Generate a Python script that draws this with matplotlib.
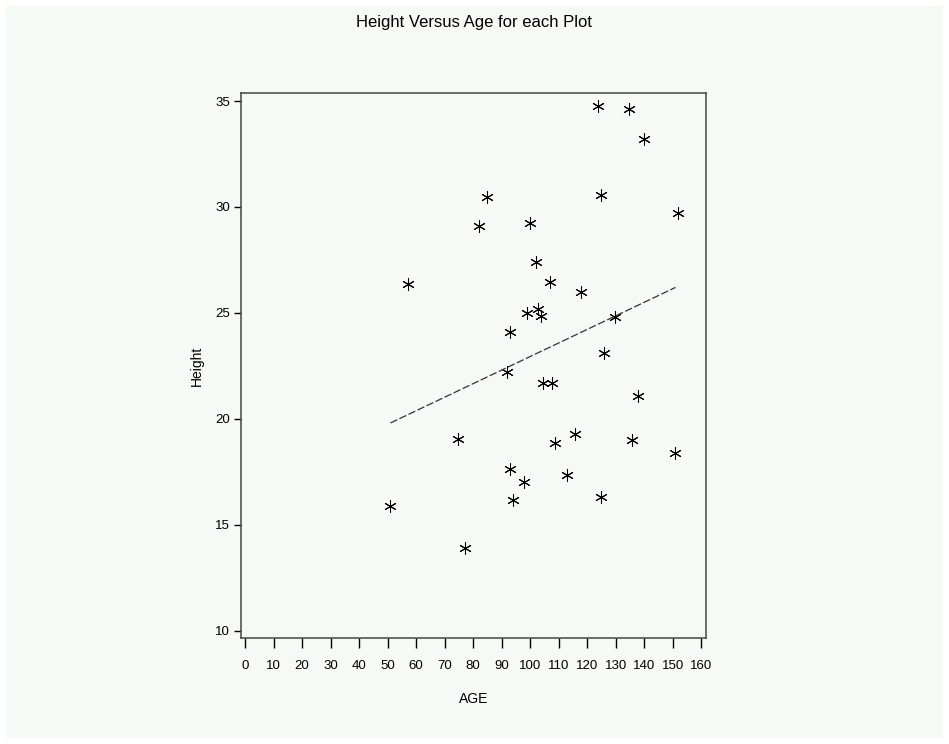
import matplotlib.pyplot as plt
from matplotlib.patches import Rectangle

age = [124.0, 134.7, 140.0, 85.0, 124.9, 151.8, 82.0, 99.9, 102.0, 57.0,
       106.9, 117.9, 98.8, 102.9, 104.0, 129.8, 92.9, 125.9, 91.9, 104.7,
       107.8, 137.9, 74.8, 115.9, 108.9, 135.8, 150.9, 92.9, 112.9, 97.9,
       93.9, 125.0, 51.0, 77.1]
height = [34.76, 34.62, 33.2, 30.45, 30.56, 29.73, 29.12, 29.23, 27.39, 26.36,
          26.47, 25.97, 24.98, 25.17, 24.87, 24.79, 24.08, 23.09, 22.2, 21.68,
          21.68, 21.08, 19.05, 19.3, 18.85, 19.02, 18.4, 17.63, 17.35, 17.02,
          16.18, 16.31, 15.9, 13.92]

# fitted line end points
fit_age = [51, 151]
fit_height = [19.8, 26.2]

x_ticks = list(range(0, 161, 10))
y_ticks = [10, 15, 20, 25, 30, 35]

bg = '#f5faf6'
plt.rcParams['font.family'] = ['Liberation Sans', 'DejaVu Sans']

fig = plt.figure(figsize=(9.49, 7.44), dpi=100, facecolor='white')
fig.patches.append(Rectangle((6 / 949, 6 / 744), 937 / 949, 732 / 744,
                             transform=fig.transFigure, facecolor=bg,
                             edgecolor='none', zorder=-10))

ax = fig.add_axes([0.254, 0.1425, 0.4896, 0.7325])
ax.set_facecolor(bg)

ax.plot(age, height, linestyle='none', marker=(6, 2, 0), markersize=9,
        markeredgewidth=0.75, color='black')
ax.plot(fit_age, fit_height, linestyle=(0, (6, 2)), color='#333333', linewidth=0.9)

ax.set_xlim(-1.4, 161.6)
ax.set_ylim(9.65, 35.38)
ax.set_xticks(x_ticks)
ax.set_yticks(y_ticks)
ax.tick_params(axis='x', direction='out', length=7, width=1, labelsize=9.5, pad=9)
ax.tick_params(axis='y', direction='out', length=5, width=1, labelsize=9.5, pad=3)

for s in ax.spines.values():
    s.set_color('#444444')
    s.set_linewidth(1.1)

ax.set_xlabel('AGE', fontsize=10, labelpad=14)
ax.set_ylabel('Height', fontsize=10, labelpad=8)
fig.text(0.5, 1 - 22 / 744, 'Height Versus Age for each Plot', ha='center',
         va='center', fontsize=12)

fig.savefig('out.png', dpi=100, facecolor=fig.get_facecolor())
